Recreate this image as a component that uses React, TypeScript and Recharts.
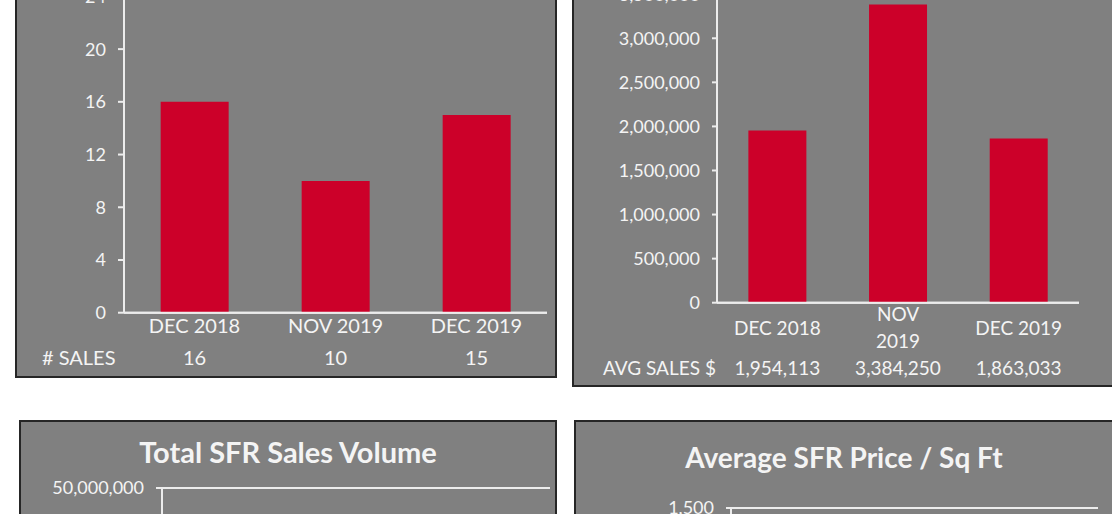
import React from 'react';
import { BarChart, Bar, XAxis, YAxis, CartesianGrid } from 'recharts';

const categories = ['DEC 2018', 'NOV 2019', 'DEC 2019'];
const salesCounts = [16, 10, 15];
const avgSalesPrices = [1954113, 3384250, 1863033];
const totalVolumes = [31265808, 33842500, 27945495];
const pricePerSqFt = [1062, 1287, 1041];

const countTicks = [0, 4, 8, 12, 16, 20, 24];
const avgTicks = [0, 500000, 1000000, 1500000, 2000000, 2500000, 3000000, 3500000];
const volumeTicks = [0, 10000000, 20000000, 30000000, 40000000, 50000000];
const ppsfTicks = [0, 250, 500, 750, 1000, 1250, 1500];
const avgTickLabelLines = [['DEC 2018'], ['NOV', '2019'], ['DEC 2019']];

const countData = categories.map((name, i) => ({ name, value: salesCounts[i] }));
const avgData = categories.map((name, i) => ({ name, value: avgSalesPrices[i] }));
const volumeData = categories.map((name, i) => ({ name, value: totalVolumes[i] }));
const ppsfData = categories.map((name, i) => ({ name, value: pricePerSqFt[i] }));

const fmt = (v: number) => v.toLocaleString('en-US');

const FONT = 'Lato, "Open Sans", sans-serif';
const TEXT = '#f4f4f4';
const LINE = '#ececec';
const RED = '#cc0029';
const BG = '#808080';

const panelStyle = (left: number, top: number, width: number, height: number): React.CSSProperties => ({
  position: 'absolute',
  left,
  top,
  width,
  height,
  background: BG,
  border: '2px solid #262626',
  boxSizing: 'border-box',
});

const CountTick = (props: any) => {
  const { x, y, payload, index } = props;
  return (
    <g>
      <text x={x} y={y + 20} textAnchor="middle" fill={TEXT} fontSize={20} fontFamily={FONT}>
        {payload.value}
      </text>
      <text x={x} y={y + 52} textAnchor="middle" fill={TEXT} fontSize={20} fontFamily={FONT}>
        {String(salesCounts[index])}
      </text>
    </g>
  );
};

const SimpleTick = (props: any) => {
  const { x, y, payload } = props;
  return (
    <text x={x} y={y + 20} textAnchor="middle" fill={TEXT} fontSize={20} fontFamily={FONT}>
      {payload.value}
    </text>
  );
};

const AvgTick = (props: any) => {
  const { x, y, index } = props;
  const lines = avgTickLabelLines[index] || [];
  return (
    <g>
      {lines.length === 1 ? (
        <text x={x} y={y + 32} textAnchor="middle" fill={TEXT} fontSize={19} fontFamily={FONT}>
          {lines[0]}
        </text>
      ) : (
        lines.map((l, k) => (
          <text key={k} x={x} y={y + 18 + k * 27} textAnchor="middle" fill={TEXT} fontSize={19} fontFamily={FONT}>
            {l}
          </text>
        ))
      )}
      <text x={x} y={y + 72} textAnchor="middle" fill={TEXT} fontSize={19} fontFamily={FONT}>
        {fmt(avgSalesPrices[index])}
      </text>
    </g>
  );
};

const yTickStyle = { fill: TEXT, fontSize: 18, fontFamily: FONT };

function Panel(props: {
  data: any[];
  ticks: number[];
  width: number;
  height: number;
  margin: any;
  yWidth: number;
  xHeight: number;
  xTick: any;
  tickSize: number;
}) {
  const { data, ticks, width, height, margin, yWidth, xHeight, xTick, tickSize } = props;
  return (
    <BarChart width={width} height={height} data={data} margin={margin} barCategoryGap="26%">
      <CartesianGrid vertical={false} stroke={LINE} strokeWidth={2} />
      <XAxis
        dataKey="name"
        height={xHeight}
        tick={xTick}
        tickLine={false}
        tickSize={0}
        tickMargin={0}
        axisLine={{ stroke: LINE, strokeWidth: 2 }}
        interval={0}
      />
      <YAxis
        yAxisId="left"
        width={yWidth}
        domain={[ticks[0], ticks[ticks.length - 1]]}
        ticks={ticks}
        interval={0}
        tickFormatter={fmt}
        tick={yTickStyle}
        tickSize={tickSize}
        tickMargin={12}
        tickLine={{ stroke: LINE, strokeWidth: 2 }}
        axisLine={{ stroke: LINE, strokeWidth: 2 }}
      />
      <YAxis
        yAxisId="right"
        orientation="right"
        width={0}
        domain={[0, 1]}
        tick={false}
        tickLine={false}
        axisLine={{ stroke: LINE, strokeWidth: 2 }}
      />
      <Bar yAxisId="left" dataKey="value" fill={RED} isAnimationActive={false} />
    </BarChart>
  );
}

const rowLabel = (left: number, top: number, text: string, size: number): React.ReactNode => (
  <div
    style={{
      position: 'absolute',
      left,
      top,
      height: 30,
      lineHeight: '30px',
      color: TEXT,
      fontSize: size,
      fontFamily: FONT,
      whiteSpace: 'nowrap',
    }}
  >
    {text}
  </div>
);

const title = (left: number, width: number, centerY: number, text: string, size: number): React.ReactNode => (
  <div
    style={{
      position: 'absolute',
      left,
      width,
      top: centerY - 16,
      height: 32,
      lineHeight: '32px',
      textAlign: 'center',
      color: TEXT,
      fontSize: size,
      fontWeight: 700,
      fontFamily: FONT,
      whiteSpace: 'nowrap',
    }}
  >
    {text}
  </div>
);

export default function App() {
  return (
    <div
      style={{
        position: 'absolute',
        left: 0,
        top: 0,
        width: 1112,
        height: 514,
        overflow: 'hidden',
        background: '#ffffff',
        fontFamily: FONT,
      }}
    >
      {/* Top-left: number of sales */}
      <div style={panelStyle(15, -80, 542, 458)} />
      <div style={{ position: 'absolute', left: 15, top: -20 }}>
        <Panel
          data={countData}
          ticks={countTicks}
          width={542}
          height={398}
          margin={{ top: 16.4, right: 10, bottom: 5.3, left: 49 }}
          yWidth={60}
          xHeight={60}
          xTick={<CountTick />}
          tickSize={6}
        />
      </div>
      {rowLabel(42, 342, '# SALES', 20)}

      {/* Top-right: average sales price */}
      <div style={panelStyle(572, -80, 542, 467)} />
      <div style={{ position: 'absolute', left: 572, top: -30 }}>
        <Panel
          data={avgData}
          ticks={avgTicks}
          width={542}
          height={416}
          margin={{ top: 24.2, right: 35, bottom: 5.3, left: 45 }}
          yWidth={100}
          xHeight={78}
          xTick={<AvgTick />}
          tickSize={5}
        />
      </div>
      {rowLabel(603, 353, 'AVG SALES $', 19)}

      {/* Bottom-left: total volume */}
      <div style={panelStyle(19, 420, 538, 400)} />
      {title(19, 538, 452, 'Total SFR Sales Volume', 29)}
      <div style={{ position: 'absolute', left: 19, top: 420 }}>
        <Panel
          data={volumeData}
          ticks={volumeTicks}
          width={538}
          height={400}
          margin={{ top: 68, right: 7, bottom: 22, left: 43 }}
          yWidth={100}
          xHeight={60}
          xTick={<SimpleTick />}
          tickSize={6}
        />
      </div>

      {/* Bottom-right: price per sq ft */}
      <div style={panelStyle(574, 420, 540, 400)} />
      {title(574, 540, 457, 'Average SFR Price / Sq Ft', 28)}
      <div style={{ position: 'absolute', left: 574, top: 420 }}>
        <Panel
          data={ppsfData}
          ticks={ppsfTicks}
          width={540}
          height={400}
          margin={{ top: 88, right: 16, bottom: 22, left: 57 }}
          yWidth={100}
          xHeight={60}
          xTick={<SimpleTick />}
          tickSize={5}
        />
      </div>
    </div>
  );
}
